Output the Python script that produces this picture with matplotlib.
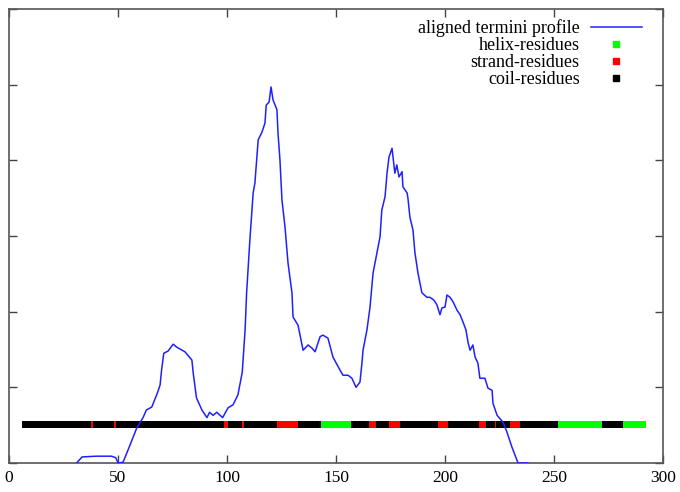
import matplotlib
matplotlib.use('Agg')
import matplotlib.pyplot as plt
from matplotlib.lines import Line2D

# aligned termini profile (residue position, profile value)
prof_x = [31, 33.5, 40, 47, 49, 50, 52.3, 55, 58.7, 61.5, 63, 65.5, 68, 69.3, 70, 71, 73,
          75.3, 77, 80.7, 83.9, 84.5, 86, 88.5, 90.8, 92, 93.6, 95.3, 98, 100.5, 102.8,
          105, 107, 108.3, 109, 110.5, 112, 112.8, 114.3, 116, 117.4, 118, 119.3, 120.2,
          121.1, 122.9, 123.4, 124.3, 125.2, 126.6, 128, 129.8, 130.3, 132.6, 133.5, 134.9,
          137.2, 138.9, 140.4, 142.7, 144, 146.3, 148.6, 151.8, 153.2, 155.5, 157.3, 159.2,
          161, 161.9, 162.4, 164.2, 165.6, 167, 168.8, 170.2, 171, 172.5, 173.4, 174.3,
          175.7, 177, 177.9, 178.9, 180.3, 180.7, 182.6, 183, 183.9, 185.3, 186.2, 187.6,
          189.4, 191.7, 193.1, 195, 196.3, 197.7, 198.6, 200, 200.9, 202.3, 203.7, 205.5,
          206.9, 208.3, 209.6, 210.6, 211.5, 212.8, 213.8, 215.1, 216, 218.3, 219.7, 221.6,
          222, 223.9, 226.6, 228.4, 230.7, 233.5, 238]
prof_y = [0.0, 0.08, 0.09, 0.09, 0.07, 0.0, 0.01, 0.2, 0.47, 0.6, 0.7, 0.74, 0.92, 1.03, 1.23,
          1.45, 1.48, 1.57, 1.53, 1.47, 1.36, 1.19, 0.86, 0.7, 0.6, 0.67, 0.63, 0.67, 0.6,
          0.73, 0.77, 0.9, 1.2, 1.76, 2.25, 2.95, 3.57, 3.7, 4.27, 4.37, 4.49, 4.73, 4.77,
          4.97, 4.8, 4.67, 4.36, 4.0, 3.48, 3.12, 2.64, 2.25, 1.93, 1.82, 1.69, 1.49, 1.56,
          1.52, 1.47, 1.67, 1.69, 1.65, 1.4, 1.23, 1.16, 1.16, 1.12, 1.0, 1.07, 1.32, 1.49,
          1.76, 2.06, 2.51, 2.78, 2.99, 3.34, 3.52, 3.83, 4.04, 4.16, 3.83, 3.94, 3.78, 3.85,
          3.65, 3.57, 3.5, 3.25, 3.08, 2.78, 2.51, 2.25, 2.19, 2.19, 2.15, 2.09, 1.96, 2.05,
          2.06, 2.22, 2.19, 2.13, 2.02, 1.96, 1.86, 1.76, 1.59, 1.49, 1.56, 1.4, 1.32, 1.12,
          1.12, 0.99, 0.96, 0.79, 0.63, 0.54, 0.41, 0.21, 0.0, 0.0]

# secondary structure segments along the sequence
seg_start = [6, 37.5, 38.5, 48, 49, 98.5, 100.5, 107, 108, 123, 132.5, 143, 157, 165, 168.5,
             174.5, 179.5, 197, 201.5, 215.5, 219, 223, 223.5, 230, 234.5, 252, 272, 281.5]
seg_end = seg_start[1:] + [292]
seg_type = ['coil', 'strand', 'coil', 'strand', 'coil', 'strand', 'coil', 'strand', 'coil',
            'strand', 'coil', 'helix', 'coil', 'strand', 'coil', 'strand', 'coil', 'strand',
            'coil', 'strand', 'coil', 'strand', 'coil', 'strand', 'coil', 'helix', 'coil', 'helix']

colors = {'helix': '#00ff00', 'strand': '#ff0000', 'coil': '#000000'}

plt.rcParams['font.family'] = ['Liberation Serif', 'DejaVu Serif']

fig = plt.figure(figsize=(6.8, 4.92), dpi=100)
ax = fig.add_axes([9 / 680, 29 / 492, 654 / 680, 454 / 492])

for s, e, t in zip(seg_start, seg_end, seg_type):
    ax.broken_barh([(s, e - s)], (0.465, 0.09), facecolors=colors[t], zorder=2)

ax.plot(prof_x, prof_y, color='#2020ff', lw=1.1, zorder=3)

ax.set_xlim(0, 300)
ax.set_ylim(0, 6)
ax.set_xticks(range(0, 301, 50))
ax.set_yticks(range(0, 7))
ax.set_yticklabels([])
ax.tick_params(direction='in', length=6, width=1, color='#444444', top=True, right=True,
               labelsize=12.5, pad=5)
for sp in ax.spines.values():
    sp.set_color('#555555')
    sp.set_linewidth(1.2)

handles = [Line2D([], [], color='#2020ff', lw=1.1),
           Line2D([], [], ls='none', marker='s', ms=3.8, color=colors['helix']),
           Line2D([], [], ls='none', marker='s', ms=3.8, color=colors['strand']),
           Line2D([], [], ls='none', marker='s', ms=3.8, color=colors['coil'])]
labels = ['aligned termini profile', 'helix-residues', 'strand-residues', 'coil-residues']
ax.legend(handles, labels, loc='upper right', bbox_to_anchor=(642 / 680, 472.5 / 492),
          bbox_transform=fig.transFigure, frameon=False, markerfirst=False,
          handlelength=2.85, handletextpad=0.6, labelspacing=0.0, fontsize=13,
          borderpad=0, borderaxespad=0)

fig.savefig('out.png', dpi=100)
